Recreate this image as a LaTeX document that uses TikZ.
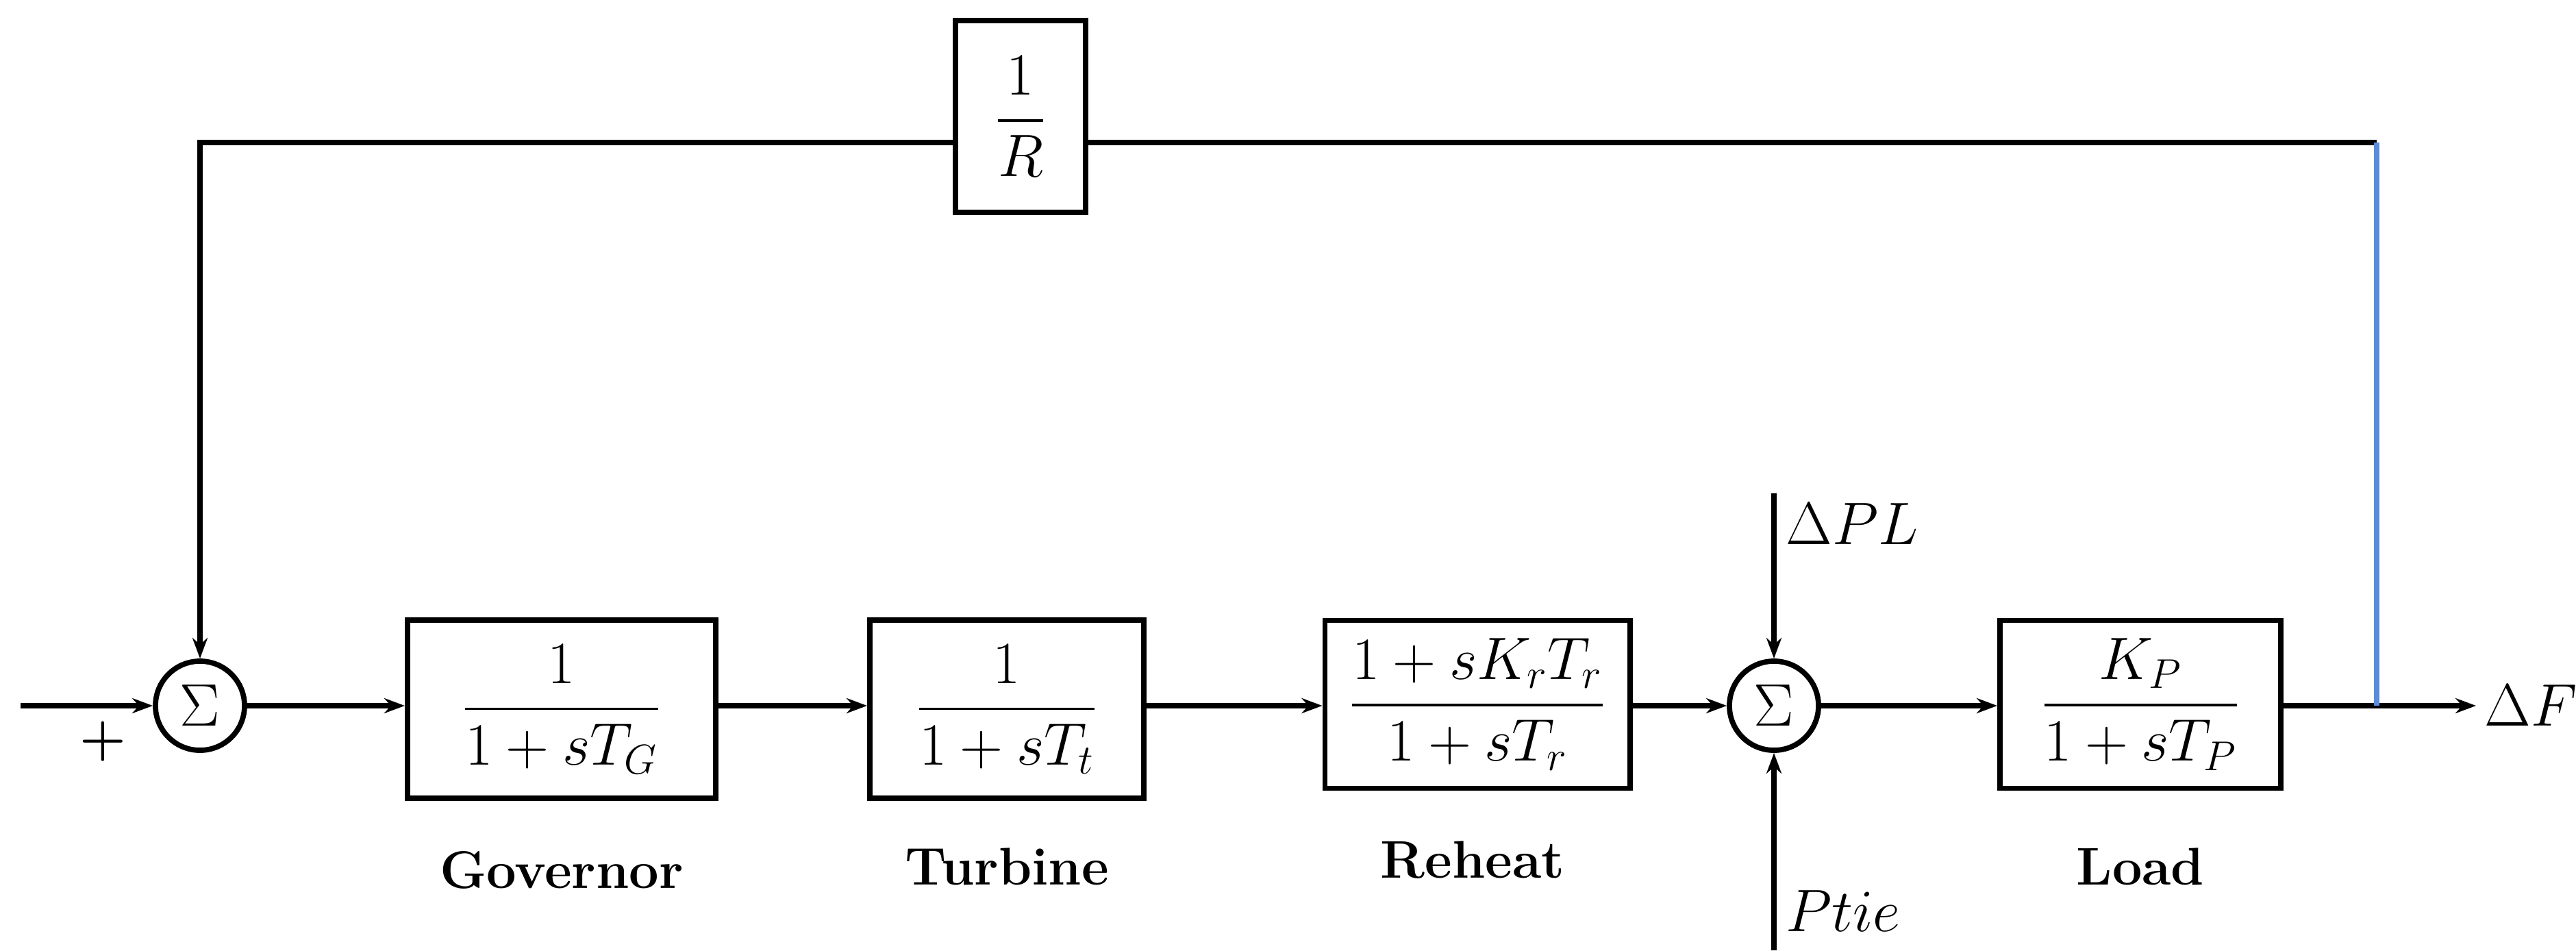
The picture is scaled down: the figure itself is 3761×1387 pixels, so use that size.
\documentclass[tikz,border=0pt]{standalone}
\usepackage{amsmath}
\usetikzlibrary{arrows.meta}
\begin{document}
\begin{tikzpicture}[x=0.01cm,y=-0.01cm,
  blk/.style={draw,line width=2.2pt,inner sep=0pt,font=\fontsize{26}{30}\selectfont},
  sum/.style={draw,circle,line width=2.2pt,minimum size=1.3cm,inner sep=0pt,font=\fontsize{30}{34}\selectfont},
  lab/.style={font=\fontsize{22}{26}\selectfont\bfseries},
  ln/.style={line width=2.2pt},
  ar/.style={ln,-{Stealth[length=0.3cm,width=0.22cm]}},
  mt/.style={font=\fontsize{30}{34}\selectfont}]
\useasboundingbox (0,0) rectangle (3761,1387);
\node[blk,minimum width=1.9cm,minimum height=2.8cm] (R) at (1490,170) {$\dfrac{1}{R}$};
\node[sum] (s1) at (292,1030) {$\Sigma$};
\node[blk,minimum width=4.5cm,minimum height=2.6cm] (G) at (820,1035) {$\dfrac{\quad 1\quad}{1+sT_G}$};
\node[blk,minimum width=4.0cm,minimum height=2.6cm] (T) at (1470,1035) {$\dfrac{\quad 1\quad}{1+sT_t}$};
\node[blk,minimum width=4.45cm,minimum height=2.45cm] (H) at (2157,1028) {$\dfrac{1+sK_rT_r}{1+sT_r}$};
\node[sum] (s2) at (2590,1030) {$\Sigma$};
\node[blk,minimum width=4.1cm,minimum height=2.45cm] (L) at (3125,1028) {$\dfrac{K_P}{1+sT_P}$};
\node[lab] (gl) at (820,1270) {Governor};
\node[lab] (tl) at (1470,1265) {Turbine};
\node[lab] (hl) at (2150,1255) {Reheat};
\node[lab] (ll) at (3125,1265) {Load};
\node[mt,anchor=west] (dpl) at (2595,765) {$\Delta PL$};
\node[mt,anchor=west] (pt) at (2595,1330) {$Ptie$};
\node[mt,anchor=west] (df) at (3615,1030) {$\Delta F$};
\node[font=\fontsize{22}{26}\selectfont\bfseries] (plus) at (150,1082) {+};
\coordinate (in) at (30,1030);
\coordinate (tl1) at (292,208);
\coordinate (tr) at (3470,208);
\coordinate (br) at (3470,1030);
\coordinate (dtop) at (2590,720);
\coordinate (pbot) at (2590,1387);
\draw[ar] (in) -- (s1.west);
\draw[ar] (s1.east) -- (G.west|-s1);
\draw[ar] (G.east|-s1) -- (T.west|-s1);
\draw[ar] (T.east|-s1) -- (H.west|-s1);
\draw[ar] (H.east|-s1) -- (s2.west);
\draw[ar] (s2.east) -- (L.west|-s2);
\draw[ar] (L.east|-br) -- (df.west);
\draw[ar] (dtop) -- (s2.north);
\draw[ar] (pbot) -- (s2.south);
\draw[ar] (R.west|-tl1) -- (tl1) -- (s1.north);
\draw[ln] (R.east|-tr) -- (tr);
\draw[ln,color={rgb,255:red,90;green,140;blue,220}] (tr) -- (br);
\end{tikzpicture}
\end{document}
